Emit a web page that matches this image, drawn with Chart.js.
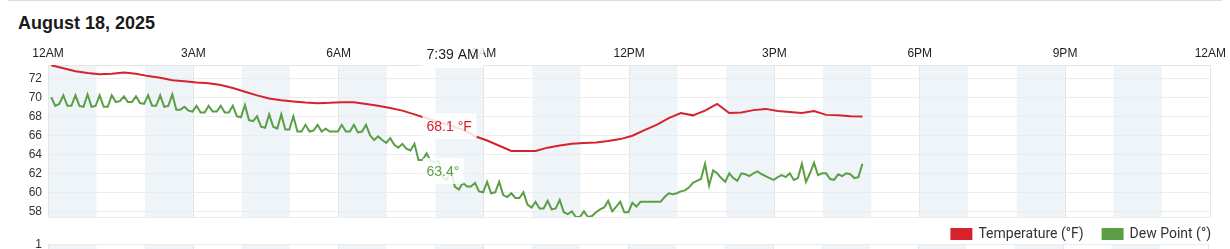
<!DOCTYPE html>
<html>
<head>
<meta charset="utf-8">
<script src="https://cdn.jsdelivr.net/npm/chart.js@4.4.1/dist/chart.umd.min.js"></script>
<style>
  html, body { margin: 0; padding: 0; background: #fff; width: 1230px; height: 249px; overflow: hidden; }
  .topline { position: absolute; left: 8px; right: 8px; top: 0; border-top: 1px solid #dcdcdc; }
  h2 { position: absolute; left: 18px; top: 13px; margin: 0; font: bold 18px "Liberation Sans", Arial, sans-serif; color: #1a1a1a; }
  #tempChart { position: absolute; left: 0; top: 36px; }
  #rainChart { position: absolute; left: 0; top: 231px; }
</style>
</head>
<body>
<div class="topline"></div>
<h2>August 18, 2025</h2>
<canvas id="tempChart" width="1230" height="224"></canvas>
<canvas id="rainChart" width="1230" height="100"></canvas>

<script>
// --- data (minutes after midnight) ---
const hourLabels = ['12AM', '3AM', '6AM', '9AM', '12PM', '3PM', '6PM', '9PM', '12AM'];
const yTickValues = [58, 60, 62, 64, 66, 68, 70, 72];
const yMin = 57.4, yMax = 73.4;

// temperature, one reading every 15 min starting 12:04 AM
const tempStart = 4, tempStep = 15;
const temperature = [
  73.38, 73.05, 72.75, 72.55, 72.42, 72.48, 72.6, 72.48, 72.23, 72.05,
  71.79, 71.7, 71.55, 71.48, 71.3, 70.98, 70.58, 70.2, 69.88, 69.7,
  69.56, 69.44, 69.38, 69.42, 69.49, 69.48, 69.3, 69.1, 68.87, 68.6,
  68.2, 67.8, 67.4, 67.0, 66.6, 65.9, 65.45, 64.9, 64.36, 64.36,
  64.36, 64.7, 64.93, 65.1, 65.2, 65.25, 65.4, 65.6, 65.95, 66.55,
  67.1, 67.8, 68.35, 68.1, 68.6, 69.3, 68.35, 68.4, 68.65, 68.78,
  68.55, 68.45, 68.36, 68.55, 68.15, 68.12, 68.0, 67.97
];

// dew point, one reading every 5 min starting 12:04 AM
const dewStart = 4, dewStep = 5;
const dewPoint = [
  70.0, 69.1, 69.3, 70.2, 69.1, 69.1, 70.2, 69.1, 69.0, 70.3,
  69.0, 69.1, 70.2, 69.0, 69.0, 70.2, 69.5, 69.6, 70.1, 69.5,
  69.5, 70.1, 69.4, 69.3, 70.2, 69.1, 69.1, 70.2, 69.0, 69.1,
  70.3, 68.7, 68.7, 69.0, 68.6, 68.5, 69.1, 68.4, 68.4, 69.1,
  68.5, 68.5, 69.1, 68.4, 68.4, 69.1, 68.0, 67.9, 69.2, 67.6,
  67.5, 68.0, 66.9, 66.8, 68.2, 66.9, 66.7, 68.2, 66.6, 66.6,
  68.0, 66.4, 66.4, 67.1, 66.4, 66.5, 67.1, 66.4, 66.7, 66.4,
  66.4, 66.4, 67.1, 66.4, 66.4, 67.1, 66.3, 66.4, 67.1, 66.0,
  65.5, 65.9, 65.5, 65.2, 65.7, 65.0, 64.7, 65.1, 64.6, 64.4,
  65.1, 63.4, 63.4, 64.1, 63.3, 63.2, 63.3, 61.6, 61.3, 62.4,
  60.6, 60.3, 61.0, 60.6, 60.6, 61.0, 60.1, 60.0, 61.1, 59.9,
  60.0, 61.1, 59.7, 59.5, 59.9, 59.4, 59.4, 60.0, 58.7, 58.4,
  59.0, 58.3, 58.3, 59.1, 58.2, 58.3, 59.2, 57.9, 57.7, 58.0,
  57.4, 57.4, 58.0, 57.4, 57.5, 57.9, 58.2, 58.4, 59.1, 58.0,
  58.5, 59.0, 57.9, 57.9, 58.9, 58.5, 59.0, 59.0, 59.0, 59.0,
  59.0, 59.0, 59.5, 59.9, 59.8, 59.9, 60.1, 60.2, 60.5, 61.0,
  61.2, 61.4, 63.0, 60.7, 62.3, 62.0, 61.5, 61.1, 62.0, 61.5,
  61.2, 62.0, 61.9, 61.7, 62.0, 62.2, 61.9, 61.7, 61.5, 61.3,
  61.6, 61.8, 61.6, 62.0, 61.3, 61.5, 63.0, 61.1, 62.0, 63.1,
  61.8, 62.0, 62.0, 61.4, 61.3, 61.9, 61.7, 62.0, 61.9, 61.5,
  61.6, 63.0
];

// hovered reading shown in the picture
const hoverMinute = 459;
const hoverTimeLabel = '7:39 AM';
const hoverTemp = 68.1;
const hoverDew = 63.4;

const RED = '#d5222c';
const GREEN = '#5b9e45';
const GRID = '#e6e6e6';

Chart.defaults.font.family = '"Liberation Sans", Arial, sans-serif';
Chart.defaults.font.size = 12;

const tempPoints = temperature.map((v, i) => ({ x: tempStart + i * tempStep, y: v }));
const dewPoints = dewPoint.map((v, i) => ({ x: dewStart + i * dewStep, y: v }));
const hourTicks = hourLabels.map((_, i) => ({ value: i * 180 }));

// --- light blue band on every other hour ---
const hourBands = {
  id: 'hourBands',
  beforeDraw(chart) {
    const { ctx, chartArea: a, scales: { x } } = chart;
    ctx.save();
    ctx.fillStyle = '#eff4f9';
    for (let h = 0; h < 24; h += 2) {
      const x0 = x.getPixelForValue(h * 60);
      const x1 = x.getPixelForValue((h + 1) * 60);
      ctx.fillRect(x0, a.top, x1 - x0, a.bottom - a.top);
    }
    ctx.restore();
  }
};

// --- hover readout boxes ---
const drawTag = (ctx, text, color, left, top, h) => {
  const w = ctx.measureText(text).width + 9;
  ctx.fillStyle = 'rgba(255,255,255,0.85)';
  ctx.beginPath();
  ctx.roundRect(left, top, w, h, 3);
  ctx.fill();
  ctx.fillStyle = color;
  ctx.fillText(text, left + 4, top + h / 2 + 1);
};

const hoverTags = {
  id: 'hoverTags',
  afterDatasetsDraw(chart) {
    const { ctx, chartArea: a, scales: { x, y } } = chart;
    const px = x.getPixelForValue(hoverMinute);
    ctx.save();
    ctx.font = '14px "Liberation Sans", Arial, sans-serif';
    ctx.textBaseline = 'middle';
    ctx.textAlign = 'left';
    drawTag(ctx, hoverTimeLabel, '#222', px + 4, a.top - 25, 28);
    drawTag(ctx, hoverTemp + ' °F', RED, px + 4, y.getPixelForValue(hoverTemp) - 2, 26);
    drawTag(ctx, hoverDew + '°', GREEN, px + 4, y.getPixelForValue(hoverDew) - 2, 26);
    ctx.restore();
  }
};

// legend sits a little closer to the plot than Chart.js puts it
const legendNudge = {
  id: 'legendNudge',
  afterLayout(chart) {
    const l = chart.legend;
    l.top -= 9; l.bottom -= 9;
    l.left += 6; l.right += 6;
  }
};

new Chart(document.getElementById('tempChart'), {
  type: 'line',
  data: {
    datasets: [
      { label: 'Temperature (°F)', data: tempPoints, borderColor: RED, backgroundColor: RED, borderWidth: 2, pointRadius: 0, tension: 0 },
      { label: 'Dew Point (°)', data: dewPoints, borderColor: GREEN, backgroundColor: GREEN, borderWidth: 2, pointRadius: 0, tension: 0 }
    ]
  },
  options: {
    responsive: false,
    animation: false,
    events: [],
    layout: { padding: { top: 9, right: 6 } },
    plugins: {
      tooltip: { enabled: false },
      legend: {
        position: 'bottom',
        align: 'end',
        labels: { boxWidth: 20, boxHeight: 10, padding: 19, color: '#333', font: { family: 'Roboto', size: 14 } }
      }
    },
    scales: {
      x: {
        type: 'linear',
        position: 'top',
        min: 0,
        max: 1440,
        afterBuildTicks: s => { s.ticks = hourTicks.map(t => ({ ...t })); },
        afterFit: s => { s.height = 20; },
        ticks: { autoSkip: false, maxRotation: 0, padding: 4, color: '#222', callback: v => hourLabels[Math.round(v / 180)] },
        grid: { color: GRID, drawTicks: false },
        border: { color: GRID }
      },
      y: {
        min: yMin,
        max: yMax,
        afterBuildTicks: s => { s.ticks = [yMin, ...yTickValues, yMax].map(v => ({ value: v })); },
        afterFit: s => { s.width = 48; },
        ticks: { autoSkip: false, padding: 6, color: '#333', callback: v => (yTickValues.includes(v) ? v : '') },
        grid: { color: '#ececec', drawTicks: false },
        border: { color: GRID }
      }
    }
  },
  plugins: [hourBands, hoverTags, legendNudge]
});

// second panel underneath, only its top edge is in view
new Chart(document.getElementById('rainChart'), {
  type: 'line',
  data: { datasets: [] },
  options: {
    responsive: false,
    animation: false,
    events: [],
    layout: { padding: { right: 22 } },
    plugins: { legend: { display: false }, tooltip: { enabled: false } },
    scales: {
      x: {
        type: 'linear',
        min: 0,
        max: 1440,
        afterBuildTicks: s => { s.ticks = hourTicks.map(t => ({ ...t })); },
        ticks: { display: false },
        grid: { color: GRID, drawTicks: false },
        border: { display: false }
      },
      y: {
        min: 0,
        max: 1,
        afterBuildTicks: s => { s.ticks = [{ value: 0 }, { value: 1 }]; },
        afterFit: s => { s.width = 48; },
        ticks: { autoSkip: false, padding: 6, color: '#333', callback: v => (v === 1 ? '1' : '') },
        grid: { color: '#ececec', drawTicks: false },
        border: { color: GRID }
      }
    }
  },
  plugins: [hourBands]
});
</script>
</body>
</html>
